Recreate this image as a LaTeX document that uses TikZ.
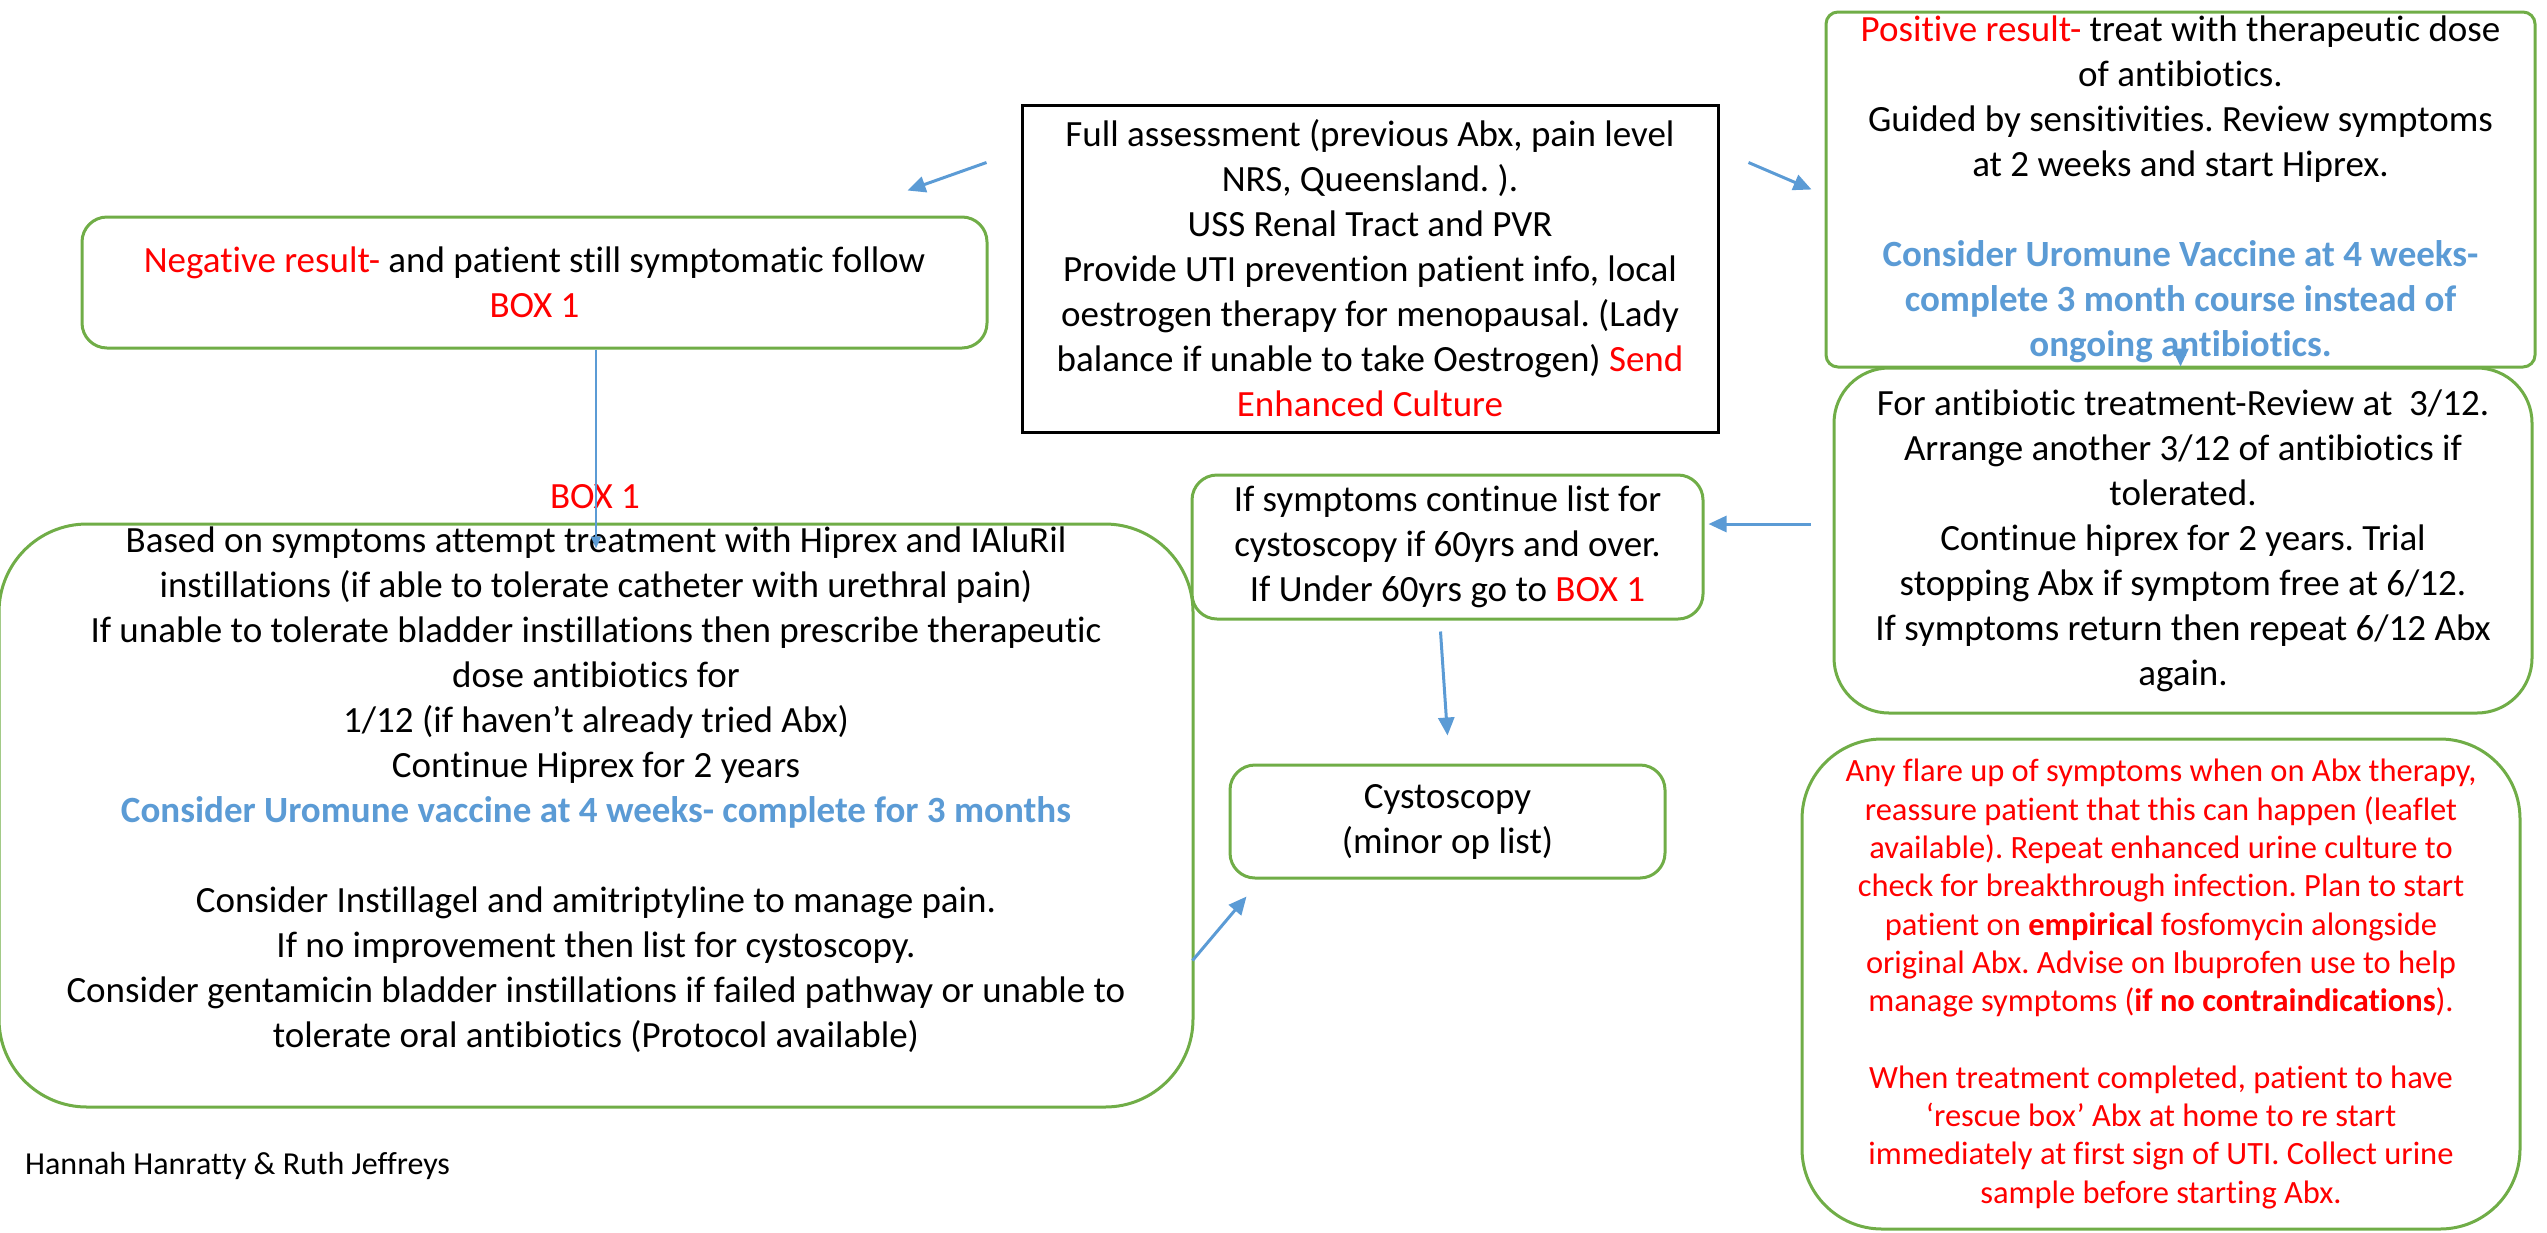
\documentclass[tikz,border=0pt]{standalone}
\usepackage{fontspec}
\setmainfont[Ligatures={NoCommon}]{Carlito}
\usepackage{tikz}
\usetikzlibrary{arrows.meta,calc}
\definecolor{boxgreen}{RGB}{112,173,71}
\definecolor{arrowblue}{RGB}{91,155,213}
\newcommand{\redtxt}[1]{\textcolor{red}{#1}}
\newcommand{\vaxtxt}[1]{\textbf{\textcolor{arrowblue}{#1}}}
\frenchspacing

\begin{document}
\begin{tikzpicture}[x=1pt,y=-1pt,
	bigfont/.style={font=\fontsize{37}{45}\selectfont},
	greenbox/.style={draw=boxgreen,line width=3pt,inner sep=0pt,align=center,bigfont},
	arr/.style={draw=arrowblue,line width=3pt,-{Triangle[length=18pt,width=16pt]}}]
	\useasboundingbox (0,0) rectangle (2547,1232);

	\node [draw=black,line width=3pt,inner sep=0pt,align=center,bigfont,minimum width=696pt,minimum height=327pt] (assess) at (1370,268.5)
		{Full assessment (previous Abx, pain level\\ NRS, Queensland. ).\\ USS Renal Tract and PVR\\ Provide UTI prevention patient info, local\\ oestrogen therapy for menopausal. (Lady\\ balance if unable to take Oestrogen) \redtxt{Send}\\ \redtxt{Enhanced Culture}};

	\node [greenbox,rounded corners=25pt,minimum width=905pt,minimum height=131pt] (neg) at (534.5,282.5)
		{\redtxt{Negative result-} and patient still symptomatic follow\\ \redtxt{BOX 1}};

	\node [greenbox,rounded corners=12pt,minimum width=709pt,minimum height=355pt] (pos) at (2180.5,189.5)
		{\redtxt{Positive result-} treat with therapeutic dose\\ of antibiotics.\\ Guided by sensitivities. Review symptoms\\ at 2 weeks and start Hiprex.\\[45pt]
		\vaxtxt{Consider Uromune Vaccine at 4 weeks-}\\ \vaxtxt{complete 3 month course instead of}\\ \vaxtxt{ongoing antibiotics.}};

	\node [greenbox,rounded corners=55pt,minimum width=698pt,minimum height=345pt] (abx) at (2183,540.5)
		{For antibiotic treatment-Review at \ 3/12.\\ Arrange another 3/12 of antibiotics if\\ tolerated.\\ Continue hiprex for 2 years. Trial\\ stopping Abx if symptom free at 6/12.\\ If symptoms return then repeat 6/12 Abx\\ again.};

	\node [greenbox,rounded corners=25pt,minimum width=511pt,minimum height=144pt] (sym) at (1447.5,547)
		{If symptoms continue list for\\ cystoscopy if 60yrs and over.\\ If Under 60yrs go to \redtxt{BOX 1}};

	\node [greenbox,rounded corners=25pt,minimum width=435pt,minimum height=113pt] (cysto) at (1447.5,821.5)
		{Cystoscopy\\ (minor op list)};

	\node [greenbox,rounded corners=80pt,minimum width=718pt,minimum height=490pt,text=red,font=\fontsize{32.5}{38.3}\selectfont] (flare) at (2161,984)
		{Any flare up of symptoms when on Abx therapy,\\ reassure patient that this can happen (leaflet\\ available). Repeat enhanced urine culture to\\ check for breakthrough infection. Plan to start\\ patient on \textbf{empirical} fosfomycin alongside\\ original Abx. Advise on Ibuprofen use to help\\ manage symptoms (\textbf{if no contraindications}).\\[38.3pt]
		When treatment completed, patient to have\\ ‘rescue box’ Abx at home to re start\\ immediately at first sign of UTI. Collect urine\\ sample before starting Abx.};

	\node [greenbox,rounded corners=88pt,minimum width=1194pt,minimum height=583pt] (box1) at (596,815.5) {};
	\node [align=center,bigfont,inner sep=0pt] (box1txt) at (596,789.5)
		{Based on symptoms attempt treatment with Hiprex and IAluRil\\ instillations (if able to tolerate catheter with urethral pain)\\ If unable to tolerate bladder instillations then prescribe therapeutic\\ dose antibiotics for\\ 1/12 (if haven’t already tried Abx)\\ Continue Hiprex for 2 years\\ \vaxtxt{Consider Uromune vaccine at 4 weeks- complete for 3 months}\\[45pt]
		Consider Instillagel and amitriptyline to manage pain.\\ If no improvement then list for cystoscopy.\\ Consider gentamicin bladder instillations if failed pathway or unable to\\ tolerate oral antibiotics (Protocol available)};
	\node [bigfont,text=red,inner sep=0pt] (box1lbl) at (595,497) {BOX 1};

	\node [anchor=west,inner sep=0pt,font=\fontsize{32}{39}\selectfont] (authors) at (25,1166) {Hannah Hanratty \& Ruth Jeffreys};

	\draw[arr] ($(assess.west)+(-34,-106)$) -- ($(neg.north east)+(-81,-25)$);
	\draw[arr] ($(assess.east)+(29,-106)$) -- ($(pos.west)+(-13,0)$);
	\draw[arr] ($(pos.south)+(0,-16)$) -- (pos.south |- abx.north);
	\draw[arr] ($(abx.west)+(-22,-16.5)$) -- ($(sym.east)+(4,-23)$);
	\draw[arr] ($(sym.south)+(-7,11)$) -- ($(cysto.north)+(0,-28)$);
	\draw[arr] ($(box1.east)+(-2,145)$) -- ($(cysto.south west)+(18,17)$);
	\draw[draw=arrowblue,line width=2pt,-{Triangle[length=12pt,width=10pt]}] (neg.south -| box1.north) -- ($(box1.north)+(0,26)$);
\end{tikzpicture}
\end{document}
